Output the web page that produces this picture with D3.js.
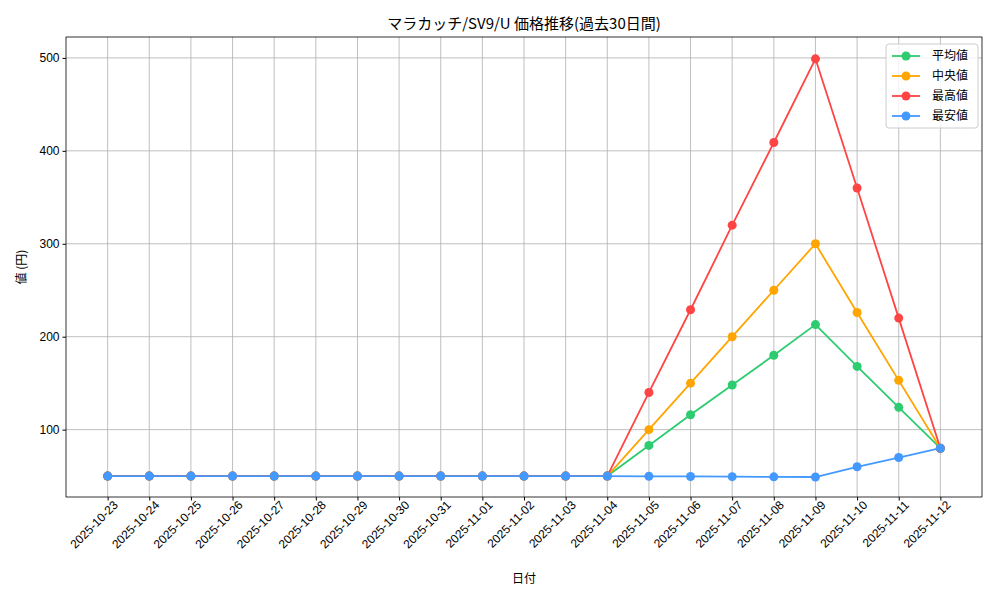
<!DOCTYPE html>
<html><head><meta charset="utf-8">
<script src="https://cdn.jsdelivr.net/npm/d3@7"></script>
<style>
body{margin:0;background:#fff;font-family:"Noto Sans CJK JP",sans-serif;}
</style></head>
<body><svg width="1000" height="600"></svg>
<script>
var dates = ["2025-10-23","2025-10-24","2025-10-25","2025-10-26","2025-10-27","2025-10-28","2025-10-29","2025-10-30","2025-10-31","2025-11-01","2025-11-02","2025-11-03","2025-11-04","2025-11-05","2025-11-06","2025-11-07","2025-11-08","2025-11-09","2025-11-10","2025-11-11","2025-11-12"];
var avgVals = [50,50,50,50,50,50,50,50,50,50,50,50,50,83,116,148,180,213,168,124,80];
var medVals = [50,50,50,50,50,50,50,50,50,50,50,50,50,100,150,200,250,300,226,153,80];
var maxVals = [50,50,50,50,50,50,50,50,50,50,50,50,50,140,229,320,409,499,360,220,80];
var minVals = [50,50,50,50,50,50,50,50,50,50,50,50,50,49.8,49.6,49.4,49.2,49,60,70,80];
var yTicks = [100,200,300,400,500];

var series = [
  {name:"平均値", vals:avgVals, color:"#2ecc71"},
  {name:"中央値", vals:medVals, color:"#ffa500"},
  {name:"最高値", vals:maxVals, color:"#ff4444"},
  {name:"最安値", vals:minVals, color:"#4499ff"}
];

var svg = d3.select("svg");
var L=66, R=982, T=37, B=497;
var n = dates.length;
var x = d3.scaleLinear().domain([-0.05*(n-1), (n-1)*1.05]).range([L,R]);
var y = d3.scaleLinear().domain([27.5,522.5]).range([B,T]);

// grid
svg.selectAll(".gx").data(dates).enter().append("line")
  .attr("x1",function(d,i){return x(i);}).attr("x2",function(d,i){return x(i);})
  .attr("y1",T).attr("y2",B).attr("stroke","#b0b0b0").attr("stroke-width",0.8);
svg.selectAll(".gy").data(yTicks).enter().append("line")
  .attr("x1",L).attr("x2",R).attr("y1",function(d){return y(d);}).attr("y2",function(d){return y(d);})
  .attr("stroke","#b0b0b0").attr("stroke-width",0.8);

// axes
var xa = svg.append("g").attr("transform","translate(0,"+B+")")
  .call(d3.axisBottom(x).tickValues(d3.range(n)).tickFormat(function(i){return dates[i];}).tickSize(3.5).tickSizeOuter(0));
xa.selectAll("text").attr("transform","rotate(-45)").style("text-anchor","end")
  .attr("dx","0.1em").attr("dy","0.6em").style("font-size","12px").attr("fill","#000");
var ya = svg.append("g").attr("transform","translate("+L+",0)")
  .call(d3.axisLeft(y).tickValues(yTicks).tickSize(3.5).tickSizeOuter(0));
ya.selectAll("text").style("font-size","12px").attr("fill","#000");
svg.selectAll(".domain").remove();
svg.append("rect").attr("x",L).attr("y",T).attr("width",R-L).attr("height",B-T)
  .attr("fill","none").attr("stroke","#000").attr("stroke-width",0.8);

// lines
var line = d3.line().x(function(d,i){return x(i);}).y(function(d){return y(d);});
series.forEach(function(s){
  svg.append("path").datum(s.vals).attr("d",line).attr("fill","none")
    .attr("stroke",s.color).attr("stroke-width",1.8);
  svg.selectAll(null).data(s.vals).enter().append("circle")
    .attr("cx",function(d,i){return x(i);}).attr("cy",function(d){return y(d);})
    .attr("r",4.5).attr("fill",s.color);
});

// titles
svg.append("text").attr("x",(L+R)/2).attr("y",29).attr("text-anchor","middle")
  .style("font-size","15px").text("マラカッチ/SV9/U 価格推移(過去30日間)");
svg.append("text").attr("x",(L+R)/2).attr("y",583).attr("text-anchor","middle")
  .style("font-size","12px").text("日付");
svg.append("text").attr("transform","translate(26,"+((T+B)/2)+") rotate(-90)")
  .attr("text-anchor","middle").style("font-size","12px").text("値 (円)");

// legend
var lg = svg.append("g").attr("transform","translate(886,44)");
lg.append("rect").attr("width",92).attr("height",84).attr("rx",3)
  .attr("fill","#fff").attr("fill-opacity",0.8).attr("stroke","#ccc");
series.forEach(function(s,i){
  var yy = 12 + i*20;
  lg.append("line").attr("x1",6).attr("x2",34).attr("y1",yy).attr("y2",yy)
    .attr("stroke",s.color).attr("stroke-width",1.8);
  lg.append("circle").attr("cx",20).attr("cy",yy).attr("r",4.5).attr("fill",s.color);
  lg.append("text").attr("x",46).attr("y",yy+4).style("font-size","12px").text(s.name);
});
</script></body></html>
